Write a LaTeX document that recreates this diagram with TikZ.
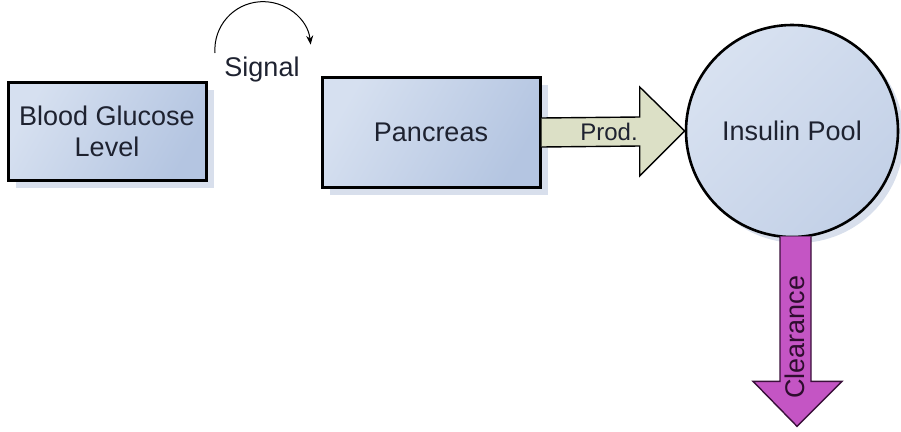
\documentclass[tikz,border=0pt]{standalone}
\usepackage{fontspec}
\setmainfont{Liberation Sans}
\usetikzlibrary{shadows,arrows.meta,calc}
\definecolor{boxA}{HTML}{D6E0F0}
\definecolor{boxB}{HTML}{B4C5E1}
\definecolor{shadowc}{HTML}{D8DFEC}
\definecolor{prodfill}{HTML}{DCE0C6}
\definecolor{clearfill}{HTML}{C455C4}
\definecolor{clearline}{HTML}{3A103A}
\definecolor{txt}{HTML}{1E2230}
\tikzset{
  blockbox/.style={draw=black, line width=3pt, rectangle, left color=boxA, right color=boxB, shading angle=60,
    drop shadow={shadow xshift=8pt, shadow yshift=-8pt, fill=shadowc, opacity=1},
    font=\fontsize{27}{31}\selectfont, text=txt, align=center, inner sep=0pt},
  poolcircle/.style={draw=black, line width=2.6pt, circle, left color=boxA!95!white, right color=boxB!80!white, shading angle=45,
    drop shadow={shadow xshift=6pt, shadow yshift=-6pt, fill=shadowc, opacity=1},
    font=\fontsize{27}{31}\selectfont, text=txt, inner sep=0pt},
  lbl/.style={font=\fontsize{27}{31}\selectfont, text=txt, inner sep=0pt},
  fatarrow/.style={line width=1.4pt, line join=miter}
}
\begin{document}
\begin{tikzpicture}[x=1pt,y=-1pt]
\useasboundingbox (0,0) rectangle (901,431);
\node[blockbox, minimum width=198pt, minimum height=98pt] (bgl) at (107,131) {Blood Glucose\\Level};
\node[blockbox, minimum width=218pt, minimum height=110pt] (panc) at (431,132) {Pancreas};
\node[poolcircle, minimum size=212pt] (pool) at (792,131) {Insulin Pool};
% Prod. arrow
\coordinate (ps) at (panc.east);
\coordinate (pt) at (pool.west);
\draw[fatarrow, fill=prodfill, draw=black]
  ($(ps)+(0,-14)$) -- ($(pt)+(-45,-14)$) -- ($(pt)+(-45,-44)$) -- (pt)
  -- ($(pt)+(-45,45)$) -- ($(pt)+(-45,15)$) -- ($(ps)+(0,15)$);
\node[lbl, font=\fontsize{24}{28}\selectfont] (prod) at (609,132) {Prod.};
% Clearance arrow
\coordinate (cs) at ($(pool.south)+(3,-2)$);
\draw[fatarrow, fill=clearfill, draw=clearline]
  ($(cs)+(-15,0)$) -- ($(cs)+(-15,145)$) -- ($(cs)+(-42,145)$) -- ($(cs)+(2,190)$)
  -- ($(cs)+(47,145)$) -- ($(cs)+(16,145)$) -- ($(cs)+(16,0)$);
\node[lbl, rotate=90, text=clearline!80!black] (clr) at (795,337) {Clearance};
% Signal
\node[lbl] (sig) at (262,70) {Signal};
\coordinate (sigc) at (263,50);
\draw[line width=1pt, -{Stealth[length=9pt,width=7pt]}] ($(sigc)+(-48,3)$) arc[start angle=176, end angle=354, radius=48];
\end{tikzpicture}
\end{document}
